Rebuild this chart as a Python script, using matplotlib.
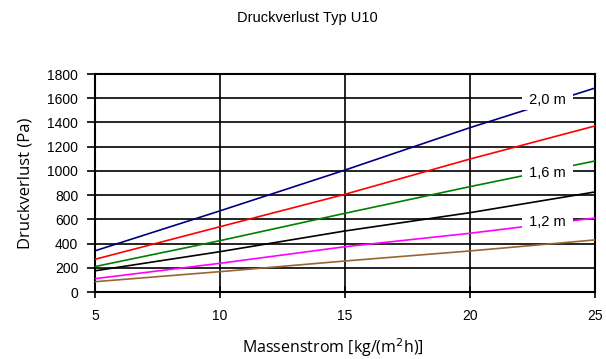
import numpy as np
import matplotlib.pyplot as plt

# Massenstrom [kg/(m2h)]
massenstrom = [5, 10, 15, 20, 25]

# Druckverlust (Pa) fuer verschiedene Kurven
blau = [340, 670, 1007, 1357, 1684]
rot = [270, 539, 807, 1098, 1371]
gruen = [210, 424, 650, 870, 1082]
schwarz = [175, 333, 504, 655, 826]
magenta = [110, 237, 374, 485, 611]
braun = [85, 168, 256, 339, 430]

# Beschriftungen (Text, x, y)
labels = [("2,0 m", 23.1, 1585), ("1,6 m", 23.1, 985), ("1,2 m", 23.1, 580)]

plt.rcParams['font.family'] = ['Liberation Sans', 'DejaVu Sans']

fig = plt.figure(figsize=(6.06, 3.59), dpi=100)
ax = fig.add_axes([95 / 606, 1 - 292 / 359, 500 / 606, 218 / 359])

series = [
    (blau, '#000080'),
    (rot, '#ff0000'),
    (gruen, '#008000'),
    (schwarz, '#000000'),
    (magenta, '#ff00ff'),
    (braun, '#996633'),
]
for values, color in series:
    ax.plot(massenstrom, values, color=color, lw=1.2, zorder=3)

for text, x, y in labels:
    ax.text(x, y, " " + text + " ", fontsize=10.5, ha='center', va='center', zorder=5,
            bbox=dict(facecolor='white', edgecolor='none', pad=2.0))

ax.set_xlim(5, 25)
ax.set_ylim(0, 1800)
ax.set_xticks([5, 10, 15, 20, 25])
ax.set_yticks(np.arange(0, 1801, 200))
ax.grid(True, color='black', lw=1.2, zorder=1)
ax.set_axisbelow(True)

for sp in ax.spines.values():
    sp.set_linewidth(1.5)
ax.tick_params(axis='y', direction='out', length=6, width=1.2, pad=6, labelsize=10)
ax.tick_params(axis='x', direction='inout', length=8, width=1.2, pad=8, labelsize=10)

ax.set_xlabel('Massenstrom [kg/(m$^2$h)]', fontsize=11.5, family=['Open Sans', 'DejaVu Sans'])
ax.xaxis.label.set_va('center')
ax.xaxis.set_label_coords(0.476, -0.257)
ax.set_ylabel('Druckverlust (Pa)', fontsize=12, family=['Open Sans', 'DejaVu Sans'])
ax.yaxis.label.set_va('center')
ax.yaxis.set_label_coords(-0.138, 0.5)

fig.text(307 / 606, 1 - 18 / 359, 'Druckverlust Typ U10', fontsize=10.5, ha='center', va='center')

fig.savefig('out.png', dpi=100)
